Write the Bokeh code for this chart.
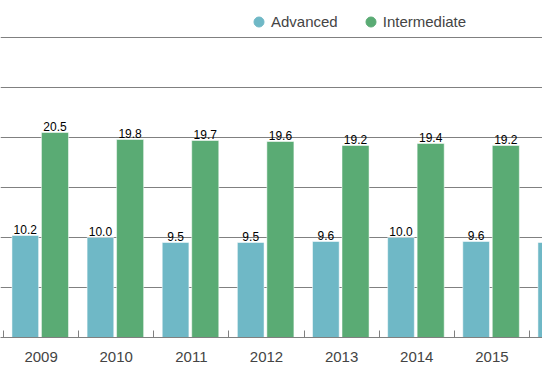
import math
from bokeh.plotting import figure
from bokeh.models import ColumnDataSource, FixedTicker, Legend, LegendItem, Range1d
from bokeh.core.properties import value
from bokeh.embed import file_html
from bokeh.resources import INLINE

years = ["2009", "2010", "2011", "2012", "2013", "2014", "2015", "2016"]
advanced = [10.2, 10.0, 9.5, 9.5, 9.6, 10.0, 9.6, 9.5]
intermediate = [20.5, 19.8, 19.7, 19.6, 19.2, 19.4, 19.2, float("nan")]
y_ticks = [0, 5, 10, 15, 20, 25, 30]

BLUE = "#6fb8c6"
GREEN = "#5aab74"
FONT = "Liberation Sans"

idx = list(range(len(years)))
adv_off, int_off = -0.21, 0.185

def fmt(v):
    return "" if (v is None or (isinstance(v, float) and math.isnan(v))) else f"{v:.1f}"

src_a = ColumnDataSource(dict(x=[i + adv_off for i in idx], top=advanced,
                              label=[fmt(v) for v in advanced]))
src_i = ColumnDataSource(dict(x=[i + int_off for i in idx], top=intermediate,
                              label=[fmt(v) for v in intermediate]))

W, H = 542, 375
unit = 75.14
left_px = 40.57
x0 = -left_px / unit
x1 = (W - left_px) / unit
base_px = 337  # baseline position from top

p = figure(width=W, height=H, output_backend="svg", toolbar_location=None,
           x_range=Range1d(x0, x1), y_range=Range1d(0, base_px / 10.0),
           min_border_left=0, min_border_right=0, min_border_top=0,
           min_border_bottom=H - base_px)
p.outline_line_color = None
p.yaxis.visible = False
p.xgrid.visible = False
p.ygrid.ticker = FixedTicker(ticks=y_ticks)
p.ygrid.grid_line_color = "#808080"
p.ygrid.grid_line_width = 1

ax = p.xaxis[0]
ax.ticker = FixedTicker(ticks=idx, minor_ticks=[i - 0.5 for i in idx] + [len(idx) - 0.5])
ax.major_label_overrides = {i: y for i, y in zip(idx, years)}
ax.major_tick_in = 0
ax.major_tick_out = 0
ax.minor_tick_in = 7
ax.minor_tick_out = 0
ax.minor_tick_line_color = "#808080"
ax.axis_line_color = "#808080"
ax.major_label_text_font = FONT
ax.major_label_text_font_size = "15px"
ax.major_label_text_color = "#444444"
ax.major_label_standoff = 14

ra = p.vbar(x="x", top="top", width=0.355, source=src_a, fill_color=BLUE,
            line_color="#ffffff", line_alpha=0.5, line_width=1)
ri = p.vbar(x="x", top="top", width=0.36, source=src_i, fill_color=GREEN,
            line_color="#ffffff", line_alpha=0.5, line_width=1)

for s in (src_a, src_i):
    p.text(x="x", y="top", text="label", source=s, text_align="center",
           text_baseline="bottom", y_offset=-2, text_font=value(FONT),
           text_font_size="12px", text_color="#000000")

# legend proxies
la = p.scatter(x=[float("nan")], y=[float("nan")], marker="circle", color=BLUE)
li = p.scatter(x=[float("nan")], y=[float("nan")], marker="circle", color=GREEN)

legend = Legend(items=[LegendItem(label="Advanced", renderers=[la]),
                       LegendItem(label="Intermediate", renderers=[li])],
                orientation="horizontal", location=(246, 303),
                glyph_width=25, glyph_height=25, label_standoff=0, spacing=20,
                padding=0, margin=0, border_line_color=None,
                background_fill_alpha=0, label_text_font=FONT,
                label_text_font_size="15px", label_text_color="#444444")
p.add_layout(legend)

open("out.html", "w").write(file_html(p, INLINE))
